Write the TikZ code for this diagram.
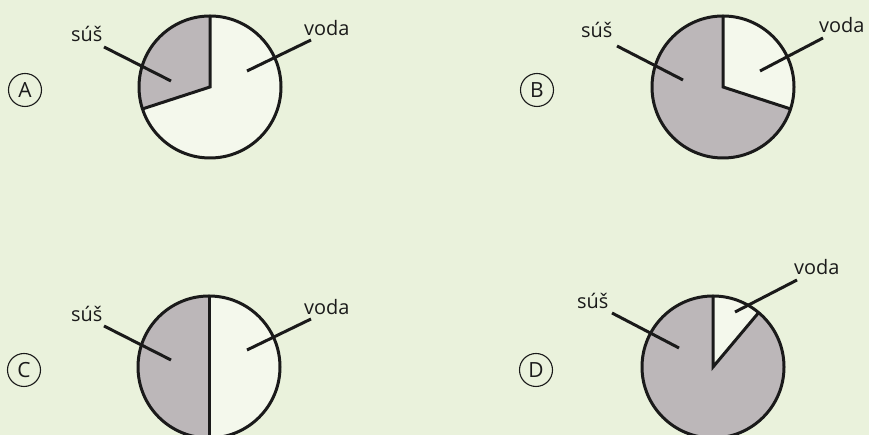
\documentclass[tikz,border=0pt]{standalone}
\usepackage{fontspec}
\setmainfont{Open Sans}
\usetikzlibrary{calc}
\definecolor{bgc}{HTML}{EAF2DC}
\definecolor{susc}{HTML}{BCB7B9}
\definecolor{vodc}{HTML}{F4F8EC}
\definecolor{inkc}{HTML}{1A1A1A}
\tikzset{
  pieline/.style={draw=inkc, line width=3bp},
  leader/.style={draw=inkc, line width=3bp},
  lbl/.style={anchor=base west, inner sep=0pt, text=inkc, font=\fontsize{20}{22}\selectfont},
  letterc/.style={circle, draw=inkc, line width=1.1bp, minimum size=33bp, inner sep=0pt, text=inkc, font=\fontsize{21}{23}\selectfont}
}
\begin{document}
\begin{tikzpicture}[x=1bp,y=1bp]
\useasboundingbox (0,0) rectangle (869,435);
\fill[bgc] (0,0) rectangle (869,435);

% ---------- A ----------
\coordinate (ca) at (210,348);
\fill[vodc] (ca) circle[radius=71bp];
\fill[susc] (ca) -- ++(90:71bp) arc[start angle=90, end angle=198, radius=71bp] -- cycle;
\draw[pieline] (ca) circle[radius=71bp];
\draw[pieline] ($(ca)+(90:71bp)$) -- (ca) -- ($(ca)+(198:71bp)$);
\node[letterc] (la) at (25,345) {A};
\node[lbl] (sa) at (71,393) {súš};
\node[lbl] (va) at (304,399) {voda};
\coordinate (sa1) at (104,388); \coordinate (sa2) at (171,354);
\coordinate (va1) at (311,395); \coordinate (va2) at (247,364);
\draw[leader] (sa1) -- (sa2);
\draw[leader] (va1) -- (va2);

% ---------- B ----------
\coordinate (cb) at (723,348);
\fill[vodc] (cb) circle[radius=71bp];
\fill[susc] (cb) -- ++(90:71bp) arc[start angle=90, end angle=342, radius=71bp] -- cycle;
\draw[pieline] (cb) circle[radius=71bp];
\draw[pieline] ($(cb)+(90:71bp)$) -- (cb) -- ($(cb)+(-18:71bp)$);
\node[letterc] (lb) at (537,345) {B};
\node[lbl] (sb) at (581,397) {súš};
\node[lbl] (vb) at (819,402) {voda};
\coordinate (sb1) at (617,389); \coordinate (sb2) at (683,355);
\coordinate (vb1) at (823,397); \coordinate (vb2) at (760,364);
\draw[leader] (sb1) -- (sb2);
\draw[leader] (vb1) -- (vb2);

% ---------- C ----------
\coordinate (cc) at (209,68);
\fill[vodc] (cc) circle[radius=71bp];
\fill[susc] (cc) -- ++(90:71bp) arc[start angle=90, end angle=270, radius=71bp] -- cycle;
\draw[pieline] (cc) circle[radius=71bp];
\draw[pieline] ($(cc)+(90:71bp)$) -- ($(cc)+(270:71bp)$);
\node[letterc] (lc) at (24,65) {C};
\node[lbl] (sc) at (71,113) {súš};
\node[lbl] (vc) at (304,120) {voda};
\coordinate (sc1) at (104,109); \coordinate (sc2) at (171,75);
\coordinate (vc1) at (311,116); \coordinate (vc2) at (247,85);
\draw[leader] (sc1) -- (sc2);
\draw[leader] (vc1) -- (vc2);

% ---------- D ----------
\coordinate (cd) at (713,68);
\fill[vodc] (cd) circle[radius=71bp];
\fill[susc] (cd) -- ++(90:71bp) arc[start angle=90, end angle=410, radius=71bp] -- cycle;
\draw[pieline] (cd) circle[radius=71bp];
\draw[pieline] ($(cd)+(90:71bp)$) -- (cd) -- ($(cd)+(50:71bp)$);
\node[letterc] (ld) at (536,65) {D};
\node[lbl] (sd) at (577,126) {súš};
\node[lbl] (vd) at (794,160) {voda};
\coordinate (sd1) at (612,122); \coordinate (sd2) at (679,87);
\coordinate (vd1) at (797,155); \coordinate (vd2) at (735,123);
\draw[leader] (sd1) -- (sd2);
\draw[leader] (vd1) -- (vd2);
\end{tikzpicture}
\end{document}
